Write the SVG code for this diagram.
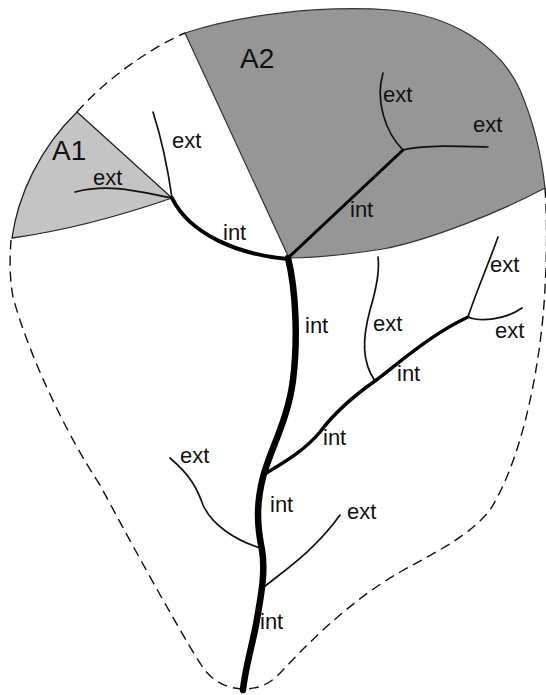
<svg xmlns="http://www.w3.org/2000/svg" width="546" height="695" viewBox="0 0 546 695">
<style>
.lbl{font-family:"Liberation Sans",Arial,sans-serif;font-size:22px;fill:#111}
.big{font-family:"Liberation Sans",Arial,sans-serif;font-size:28px;fill:#111}
.dash{fill:none;stroke:#111;stroke-width:1.4;stroke-dasharray:10 6}
.ext{fill:none;stroke:#111;stroke-width:1.7;stroke-linecap:round}
.int{fill:none;stroke:#000;stroke-linecap:round;stroke-linejoin:round}
</style>
<rect width="546" height="695" fill="#fff"/>
<g id="area-A2">
<path d="M185,33 C240,15 320,5 390,10 C450,15 500,45 520,90 C535,125 542,160 545,188 C500,212 430,240 383,249 C350,254 310,258 289,258 Z" fill="#969696" stroke="#333" stroke-width="1.2"/>
</g>
<g id="area-A1">
<path d="M77,112 L172,198 Q85,228 12,238 C18,195 40,148 77,112 Z" fill="#c4c4c4" stroke="#222" stroke-width="1.3"/>
</g>
<g id="boundary">
<path class="dash" d="M77,112 C105,80 150,48 185,33"/>
<path class="dash" d="M545,188 C548,230 547,300 538,357 C530,410 515,470 490,510 C470,535 440,550 400,572 C360,595 320,630 283,670 C270,684 262,688 245,689 C225,689 210,680 200,663 C185,640 140,560 100,485 C70,440 30,360 13,297 C9,275 10,255 11,240"/>
</g>
<g id="connectors">
<path class="int" stroke-width="6.5" d="M288,258 C296,290 298,340 293,380 C288,420 270,450 263,477 C256,505 257,525 262,550 C266,575 260,600 256,625 C251,650 245,670 243,690"/>
<path class="int" stroke-width="4" d="M288,259 C240,255 190,235 172,198"/>
<path class="int" stroke-width="3" d="M288,258 L403,150"/>
<path class="int" stroke-width="3.5" d="M263,475 C285,462 305,450 320,432 C335,412 355,395 375,381 C400,362 430,335 468,317"/>
<path class="ext" d="M403,150 C385,132 375,100 383,73"/>
<path class="ext" d="M403,150 C420,145 450,146 488,147"/>
<path class="ext" d="M172,198 C168,170 162,140 153,112"/>
<path class="ext" stroke-width="2.3" d="M172,198 C140,192 110,183 75,192"/>
<path class="ext" d="M468,317 C475,295 488,265 498,237"/>
<path class="ext" d="M468,317 C480,322 505,320 522,308"/>
<path class="ext" d="M375,381 C362,362 362,340 370,310 C376,290 380,272 378,257"/>
<path class="ext" d="M260,548 C235,540 212,525 203,505 C197,488 190,475 170,458"/>
<path class="ext" d="M264,587 C285,570 315,550 340,515"/>
</g>
<g id="labels">
<text class="big" x="52" y="160">A1</text>
<text class="big" x="240" y="68">A2</text>
<text class="lbl" x="172" y="148">ext</text>
<text class="lbl" x="93" y="185">ext</text>
<text class="lbl" x="223" y="240">int</text>
<text class="lbl" x="383" y="102">ext</text>
<text class="lbl" x="473" y="132">ext</text>
<text class="lbl" x="350" y="217">int</text>
<text class="lbl" x="490" y="272">ext</text>
<text class="lbl" x="495" y="338">ext</text>
<text class="lbl" x="305" y="333">int</text>
<text class="lbl" x="373" y="331">ext</text>
<text class="lbl" x="397" y="381">int</text>
<text class="lbl" x="323" y="445">int</text>
<text class="lbl" x="180" y="463">ext</text>
<text class="lbl" x="270" y="512">int</text>
<text class="lbl" x="347" y="519">ext</text>
<text class="lbl" x="260" y="629">int</text>
</g>
</svg>
